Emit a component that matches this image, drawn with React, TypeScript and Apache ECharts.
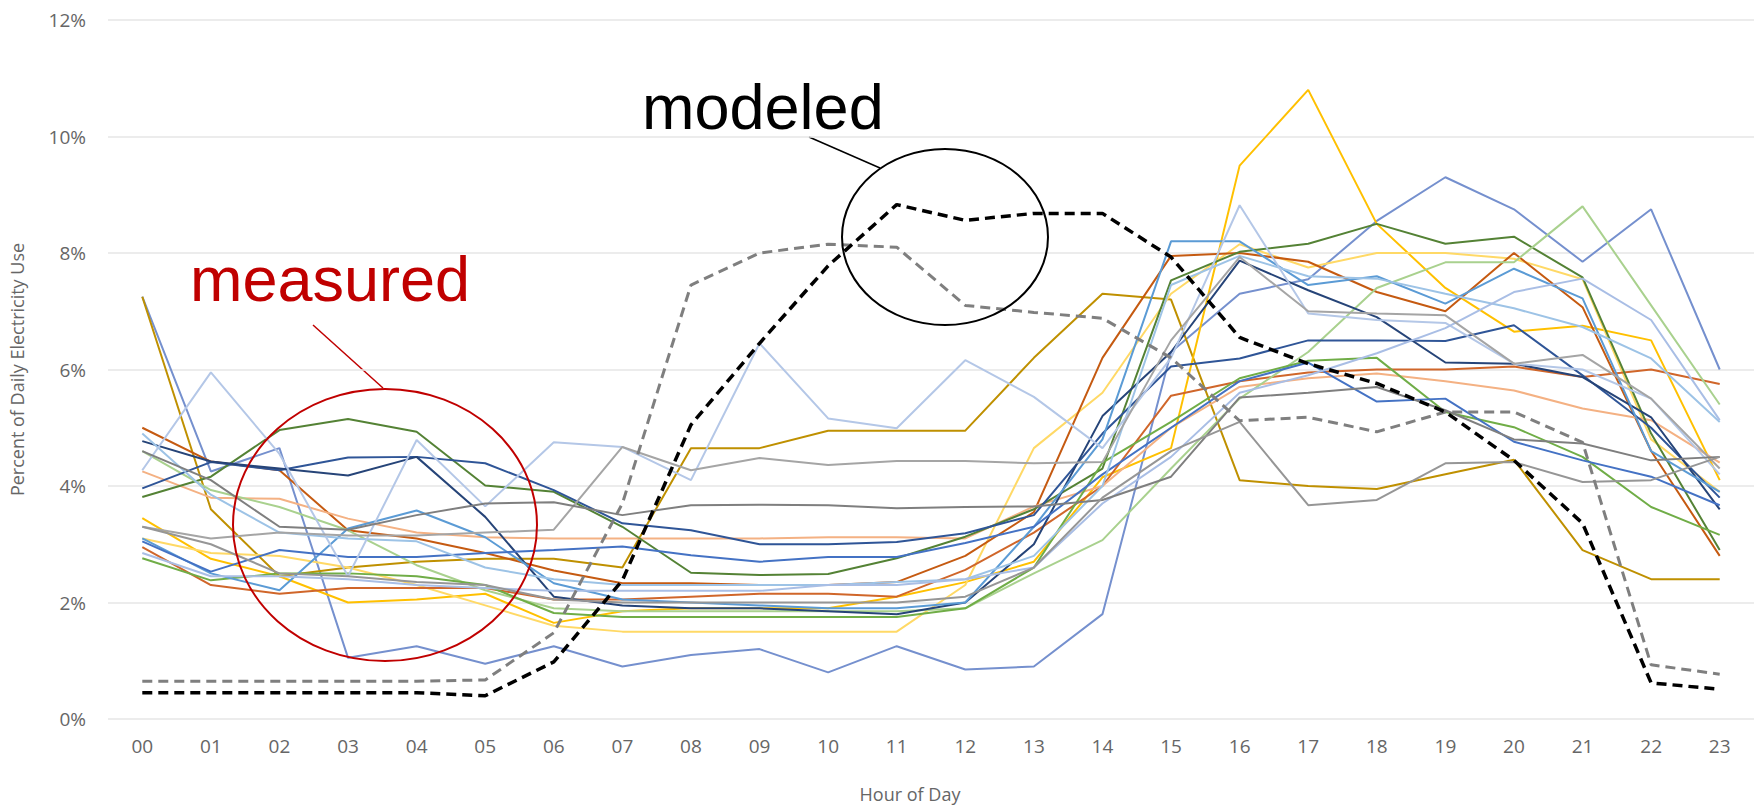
import React, { useEffect, useRef } from "react";
import * as echarts from "echarts";

const hours = ["00","01","02","03","04","05","06","07","08","09","10","11","12","13","14","15","16","17","18","19","20","21","22","23"];
const yTicks = [0, 2, 4, 6, 8, 10, 12];

const periwinkle = [7.25, 4.25, 4.65, 1.05, 1.25, 0.95, 1.25, 0.9, 1.1, 1.2, 0.8, 1.25, 0.85, 0.9, 1.8, 6.3, 7.3, 7.55, 8.55, 9.3, 8.75, 7.85, 8.75, 6.0];
const darkGold = [7.25, 3.6, 2.45, 2.6, 2.7, 2.75, 2.75, 2.6, 4.65, 4.65, 4.95, 4.95, 4.95, 6.2, 7.3, 7.2, 4.1, 4.0, 3.95, 4.2, 4.45, 2.9, 2.4, 2.4];
const brightGold = [3.45, 2.75, 2.45, 2.0, 2.05, 2.15, 1.65, 1.85, 1.9, 1.9, 1.9, 2.1, 2.35, 2.7, 4.15, 4.65, 9.5, 10.8, 8.5, 7.4, 6.65, 6.75, 6.5, 4.1];
const lightYellow = [3.1, 2.85, 2.8, 2.6, 2.3, 1.95, 1.6, 1.5, 1.5, 1.5, 1.5, 1.5, 2.3, 4.65, 5.6, 7.3, 8.15, 7.75, 8.0, 8.0, 7.9, 7.55, 4.8, 3.9];
const darkOrange = [5.0, 4.42, 4.27, 3.24, 3.1, 2.85, 2.55, 2.33, 2.33, 2.3, 2.3, 2.35, 2.8, 3.55, 6.2, 7.95, 8.0, 7.85, 7.33, 7.0, 8.0, 7.07, 4.6, 2.8];
const brownOrange = [2.95, 2.3, 2.15, 2.25, 2.25, 2.25, 2.05, 2.05, 2.1, 2.15, 2.15, 2.1, 2.56, 3.2, 4.0, 5.55, 5.8, 5.95, 6.0, 6.0, 6.05, 5.87, 6.0, 5.75];
const salmon = [4.25, 3.8, 3.78, 3.44, 3.2, 3.12, 3.1, 3.1, 3.1, 3.1, 3.12, 3.12, 3.1, 3.65, 4.0, 5.0, 5.7, 5.85, 5.93, 5.8, 5.64, 5.33, 5.13, 4.4];
const darkGreen = [3.81, 4.16, 4.96, 5.15, 4.93, 4.01, 3.9, 3.3, 2.51, 2.47, 2.49, 2.76, 3.13, 3.6, 4.3, 7.53, 8.02, 8.16, 8.5, 8.16, 8.28, 7.58, 4.9, 2.9];
const lightGreen = [4.6, 3.93, 3.64, 3.24, 2.64, 2.21, 1.9, 1.85, 1.85, 1.85, 1.85, 1.85, 1.9, 2.5, 3.07, 4.3, 5.5, 6.3, 7.4, 7.84, 7.84, 8.8, 7.1, 5.4];
const green = [2.76, 2.38, 2.5, 2.5, 2.45, 2.3, 1.82, 1.75, 1.75, 1.75, 1.75, 1.75, 1.9, 2.6, 4.4, 5.1, 5.85, 6.15, 6.2, 5.27, 5.01, 4.5, 3.64, 3.16];
const navy = [3.96, 4.41, 4.27, 4.49, 4.5, 4.39, 3.93, 3.36, 3.24, 3.0, 3.0, 3.04, 3.19, 3.5, 4.9, 6.05, 6.19, 6.5, 6.5, 6.49, 6.76, 5.9, 5.0, 3.8];
const darkBlue = [4.77, 4.42, 4.3, 4.18, 4.5, 3.47, 2.1, 1.95, 1.9, 1.9, 1.85, 1.8, 2.0, 3.0, 5.2, 6.3, 7.87, 7.36, 6.9, 6.12, 6.1, 5.87, 5.18, 3.6];
const mediumBlue = [3.1, 2.5, 2.21, 3.27, 3.58, 3.12, 2.33, 2.05, 2.0, 1.95, 1.9, 1.9, 2.0, 3.3, 4.8, 8.2, 8.2, 7.45, 7.6, 7.13, 7.73, 7.22, 4.6, 3.9];
const blue = [3.05, 2.53, 2.9, 2.78, 2.78, 2.85, 2.9, 2.96, 2.81, 2.7, 2.78, 2.78, 3.02, 3.3, 4.2, 5.0, 5.8, 6.12, 5.45, 5.5, 4.76, 4.44, 4.16, 3.67];
const lightBlue = [4.9, 3.85, 3.2, 3.1, 3.05, 2.6, 2.4, 2.3, 2.3, 2.3, 2.3, 2.35, 2.4, 2.8, 4.0, 7.45, 7.95, 7.6, 7.56, 7.3, 7.05, 6.73, 6.19, 5.1];
const lavender = [4.27, 5.95, 4.55, 2.45, 4.79, 3.65, 4.75, 4.67, 4.1, 6.45, 5.16, 4.99, 6.16, 5.53, 4.65, 6.2, 8.82, 6.96, 6.85, 6.8, 6.1, 6.0, 5.5, 4.2];
const steel = [2.85, 2.45, 2.45, 2.4, 2.3, 2.25, 2.2, 2.2, 2.2, 2.2, 2.3, 2.3, 2.4, 2.6, 3.7, 4.5, 5.6, 5.9, 6.28, 6.71, 7.33, 7.56, 6.85, 5.13];
const gray = [3.3, 3.1, 3.2, 3.15, 3.15, 3.2, 3.25, 4.67, 4.27, 4.48, 4.36, 4.43, 4.43, 4.39, 4.41, 6.5, 7.93, 7.0, 6.96, 6.93, 6.1, 6.25, 5.5, 4.3];
const darkGray = [4.6, 4.1, 3.3, 3.25, 3.5, 3.7, 3.72, 3.5, 3.67, 3.68, 3.67, 3.62, 3.64, 3.65, 3.76, 4.16, 5.52, 5.6, 5.7, 5.3, 4.8, 4.73, 4.44, 4.5];
const midGray = [3.3, 3.0, 2.5, 2.45, 2.35, 2.3, 2.05, 2.0, 2.0, 2.0, 2.0, 2.0, 2.1, 2.6, 3.8, 4.6, 5.1, 3.67, 3.76, 4.39, 4.41, 4.07, 4.1, 4.5];

const modeledA = [0.45, 0.45, 0.45, 0.45, 0.45, 0.4, 0.98, 2.38, 5.05, 6.45, 7.78, 8.83, 8.56, 8.68, 8.68, 7.93, 6.55, 6.1, 5.76, 5.27, 4.44, 3.36, 0.62, 0.51];
const modeledB = [0.65, 0.65, 0.65, 0.65, 0.65, 0.67, 1.48, 3.7, 7.45, 8.0, 8.15, 8.1, 7.1, 6.98, 6.88, 6.2, 5.12, 5.18, 4.93, 5.27, 5.27, 4.75, 0.93, 0.77];

const measured: [string, string, number[]][] = [
  ["Site 1", "#7590CE", periwinkle],
  ["Site 2", "#BF9000", darkGold],
  ["Site 3", "#FFC000", brightGold],
  ["Site 4", "#FFD966", lightYellow],
  ["Site 5", "#C55A11", darkOrange],
  ["Site 6", "#D0662A", brownOrange],
  ["Site 7", "#F4B183", salmon],
  ["Site 8", "#548235", darkGreen],
  ["Site 9", "#A9D18E", lightGreen],
  ["Site 10", "#70AD47", green],
  ["Site 11", "#2F5597", navy],
  ["Site 12", "#264478", darkBlue],
  ["Site 13", "#5B9BD5", mediumBlue],
  ["Site 14", "#4472C4", blue],
  ["Site 15", "#9DC3E6", lightBlue],
  ["Site 16", "#B4C7E7", lavender],
  ["Site 17", "#A9BEE5", steel],
  ["Site 18", "#A5A5A5", gray],
  ["Site 19", "#7F7F7F", darkGray],
  ["Site 20", "#969696", midGray],
];

export default function App() {
  const ref = useRef<HTMLDivElement>(null);
  useEffect(() => {
    if (!ref.current) return;
    const chart = echarts.init(ref.current, null, { renderer: "svg" });
    const series: any[] = measured.map(([name, color, data]) => ({
      name,
      type: "line",
      data,
      symbol: "none",
      lineStyle: { width: 2, color },
      itemStyle: { color },
      silent: true,
    }));
    series.push({
      name: "Modeled B",
      type: "line",
      data: modeledB,
      symbol: "none",
      lineStyle: { width: 3, color: "#7F7F7F", type: [10, 6] },
      z: 5,
    });
    series.push({
      name: "Modeled A",
      type: "line",
      data: modeledA,
      symbol: "none",
      lineStyle: { width: 3.5, color: "#000000", type: [10, 6] },
      z: 6,
    });
    chart.setOption({
      animation: false,
      backgroundColor: "#ffffff",
      grid: { left: 103, right: 0, top: 20, bottom: 86, containLabel: false },
      xAxis: {
        type: "category",
        data: hours,
        boundaryGap: true,
        axisLine: { show: false },
        axisTick: { show: false },
        axisLabel: { color: "#666666", fontSize: 19, fontFamily: "Open Sans", margin: 17 },
      },
      yAxis: {
        type: "value",
        min: yTicks[0],
        max: yTicks[yTicks.length - 1],
        interval: 2,
        axisLine: { show: false },
        axisTick: { show: false },
        splitLine: { lineStyle: { color: "#E6E6E6", width: 1.5 } },
        axisLabel: { color: "#666666", fontSize: 19, fontFamily: "Open Sans", margin: 22, formatter: "{value}%" },
        name: "Percent of Daily Electricity Use",
        nameLocation: "middle",
        nameRotate: 90,
        nameGap: 82,
        nameTextStyle: { color: "#666666", fontSize: 18, fontFamily: "Open Sans" },
      },
      series,
      graphic: [
        {
          type: "text",
          x: 910,
          y: 794,
          style: { text: "Hour of Day", fill: "#666666", fontSize: 18, fontFamily: "Open Sans", align: "center", verticalAlign: "middle" },
        },
        {
          type: "text",
          x: 190,
          y: 279,
          style: { text: "measured", fill: "#C00000", fontSize: 63, fontFamily: "Liberation Sans", align: "left", verticalAlign: "middle" },
        },
        {
          type: "line",
          shape: { x1: 313, y1: 325, x2: 383, y2: 388 },
          style: { stroke: "#C00000", lineWidth: 1.5 },
        },
        {
          type: "ellipse",
          shape: { cx: 385, cy: 525, rx: 152, ry: 136 },
          style: { fill: "none", stroke: "#C00000", lineWidth: 2 },
          z: 100,
        },
        {
          type: "text",
          x: 642,
          y: 107,
          style: { text: "modeled", fill: "#000000", fontSize: 63, fontFamily: "Liberation Sans", align: "left", verticalAlign: "middle" },
        },
        {
          type: "line",
          shape: { x1: 809, y1: 137, x2: 880, y2: 168 },
          style: { stroke: "#000000", lineWidth: 1.5 },
        },
        {
          type: "ellipse",
          shape: { cx: 945, cy: 237, rx: 103, ry: 88 },
          style: { fill: "none", stroke: "#000000", lineWidth: 2 },
          z: 100,
        },
      ],
    });
    return () => chart.dispose();
  }, []);
  return (
    <div
      ref={ref}
      style={{ position: "fixed", left: 0, top: 0, width: 1754, height: 805, background: "#ffffff" }}
    />
  );
}
